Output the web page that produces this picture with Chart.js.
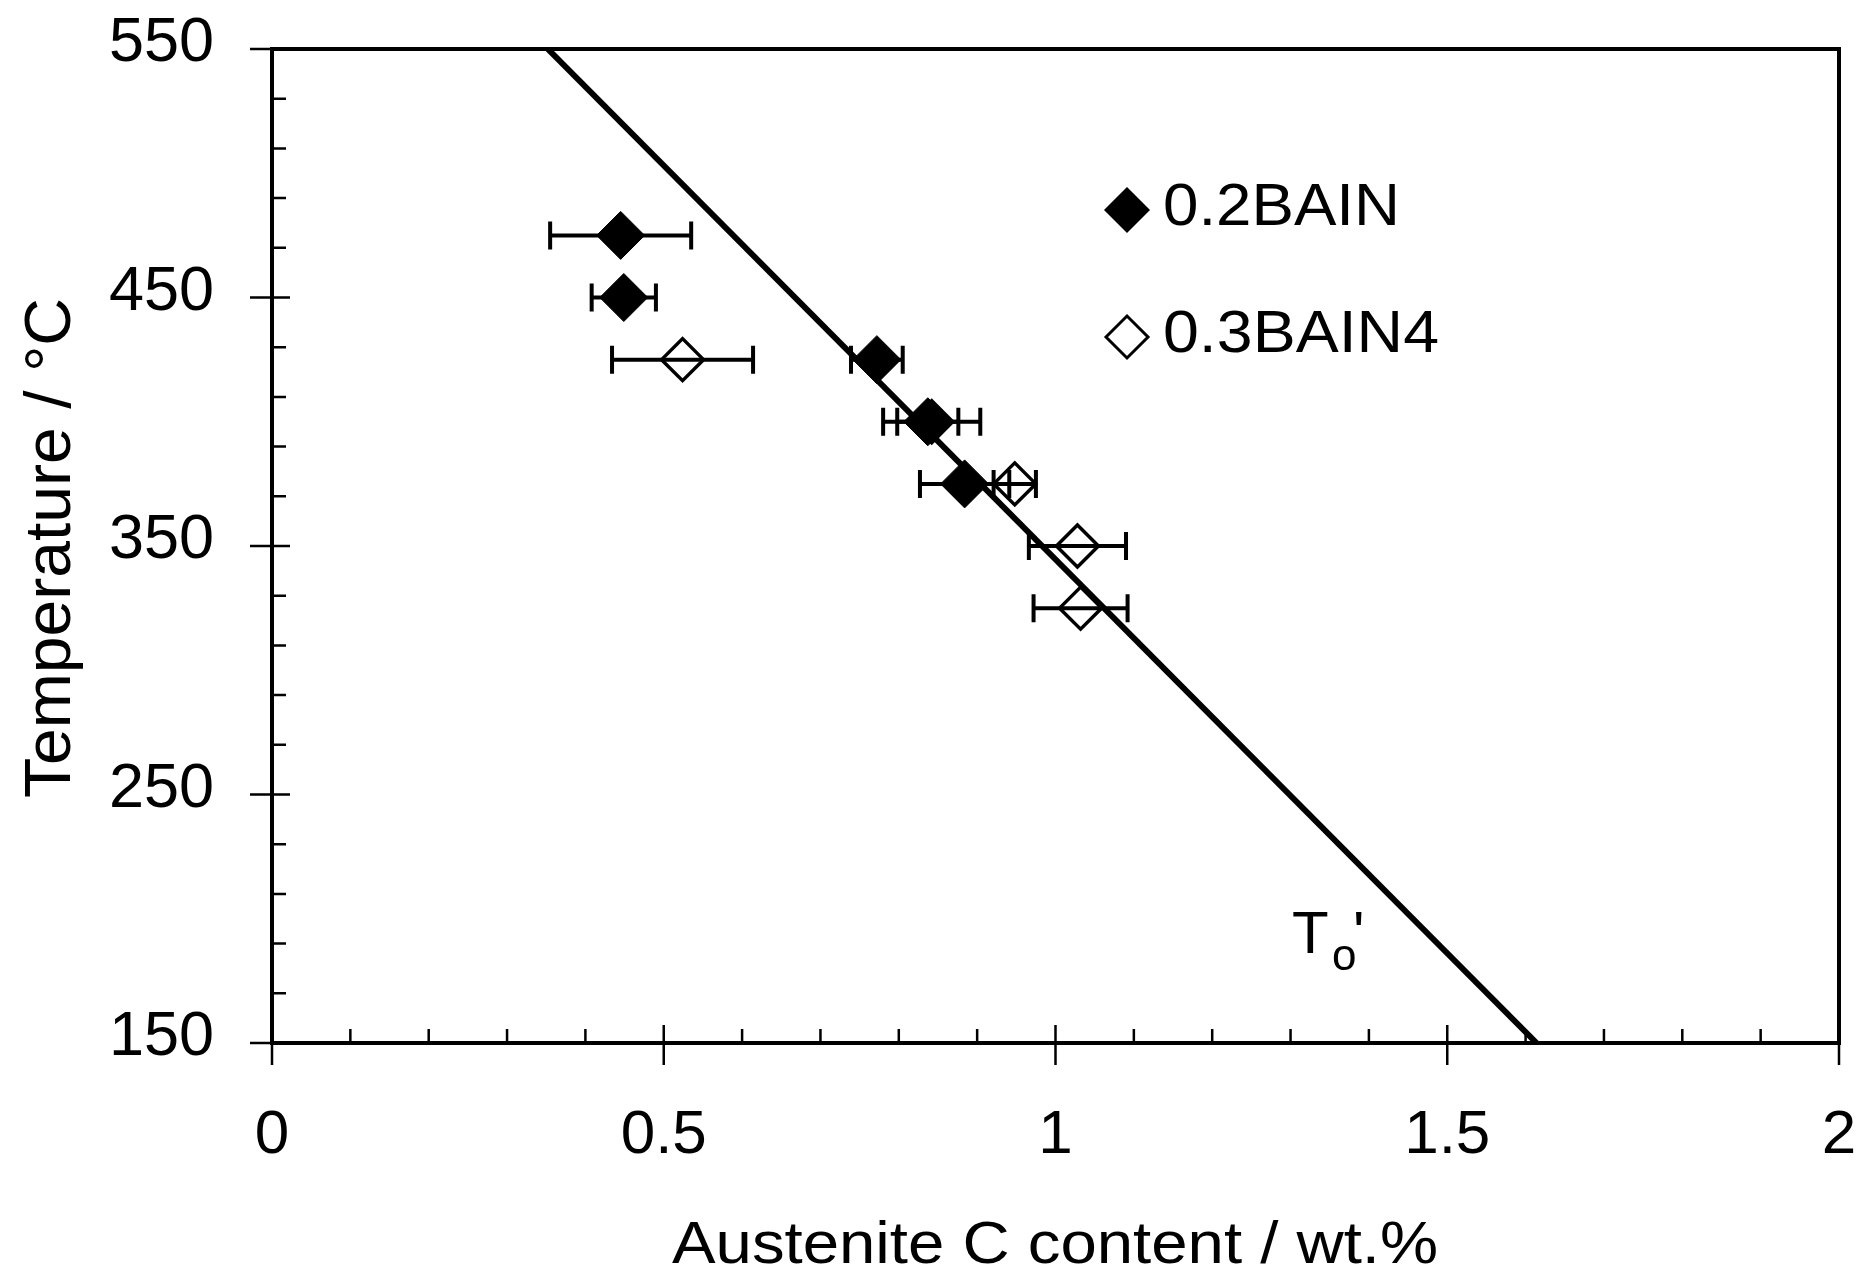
<!DOCTYPE html>
<html>
<head>
<meta charset="utf-8">
<script src="https://cdn.jsdelivr.net/npm/chart.js@4.4.1/dist/chart.umd.min.js"></script>
<style>
  html, body { margin: 0; padding: 0; background: #fff; }
  canvas { display: block; }
</style>
</head>
<body>
<canvas id="grafico" width="1864" height="1275"></canvas>
<script>
// datos (x = %C en austenita, y = temperatura)
const bain02X = [0.445, 0.449, 0.772, 0.837, 0.884];
const bain02Y = [475, 450, 425, 400, 375];
const bain02Err = [0.09, 0.041, 0.033, 0.039, 0.057];

const bain03X = [0.524, 0.842, 0.948, 1.028, 1.032];
const bain03Y = [425, 400, 375, 350, 325];
const bain03Err = [0.09, 0.062, 0.027, 0.062, 0.06];

// linea T0'
const lineaT0X = [0.352, 1.614];
const lineaT0Y = [550, 150];

const xTicksMayores = [0, 0.5, 1, 1.5, 2];
const yTicksMayores = [150, 250, 350, 450, 550];
const nombres = ["0.2BAIN", "0.3BAIN4"];

const fuente = "'Liberation Sans', Arial, sans-serif";

function puntos(xs, ys) {
  return xs.map((x, i) => ({ x: x, y: ys[i] }));
}

function esMayor(lista, v) {
  return lista.some((m) => Math.abs(m - v) < 1e-6);
}

// texto estirado horizontalmente hasta un ancho dado
function texto(ctx, t, x, y, size, ancho, align) {
  ctx.font = size + "px " + fuente;
  const w = ctx.measureText(t).width;
  const sx = ancho ? ancho / w : 1;
  ctx.save();
  ctx.translate(x, y);
  ctx.scale(sx, 1);
  ctx.textAlign = align || "left";
  ctx.textBaseline = "alphabetic";
  ctx.fillStyle = "#000";
  ctx.fillText(t, 0, 0);
  ctx.restore();
}

function rombo(ctx, x, y, r, relleno) {
  ctx.beginPath();
  ctx.moveTo(x - r, y);
  ctx.lineTo(x, y - r);
  ctx.lineTo(x + r, y);
  ctx.lineTo(x, y + r);
  ctx.closePath();
  if (relleno) {
    ctx.fillStyle = "#000";
    ctx.fill();
  } else {
    ctx.lineWidth = 3;
    ctx.strokeStyle = "#000";
    ctx.stroke();
  }
}

function barras(ctx, xs, ys, errs, sx, sy) {
  ctx.save();
  ctx.strokeStyle = "#000";
  ctx.lineWidth = 4;
  for (let i = 0; i < xs.length; i++) {
    const y = sy.getPixelForValue(ys[i]);
    const x1 = sx.getPixelForValue(xs[i] - errs[i]);
    const x2 = sx.getPixelForValue(xs[i] + errs[i]);
    ctx.beginPath();
    ctx.moveTo(x1, y);
    ctx.lineTo(x2, y);
    ctx.moveTo(x1, y - 14);
    ctx.lineTo(x1, y + 14);
    ctx.moveTo(x2, y - 14);
    ctx.lineTo(x2, y + 14);
    ctx.stroke();
  }
  ctx.restore();
}

const fondo = {
  id: "fondo",
  beforeDraw(chart) {
    const ctx = chart.ctx;
    ctx.save();
    ctx.fillStyle = "#fff";
    ctx.fillRect(0, 0, chart.width, chart.height);
    ctx.restore();
  }
};

const errores = {
  id: "errores",
  beforeDatasetsDraw(chart) {
    const sx = chart.scales.x;
    const sy = chart.scales.y;
    barras(chart.ctx, bain03X, bain03Y, bain03Err, sx, sy);
    barras(chart.ctx, bain02X, bain02Y, bain02Err, sx, sy);
  }
};

const marco = {
  id: "marco",
  afterDraw(chart) {
    const ctx = chart.ctx;
    const a = chart.chartArea;
    const sx = chart.scales.x;
    const sy = chart.scales.y;
    ctx.save();
    ctx.strokeStyle = "#000";
    ctx.lineWidth = 4;
    ctx.strokeRect(a.left, a.top, a.right - a.left, a.bottom - a.top);

    // marcas del eje x
    ctx.lineWidth = 2.5;
    ctx.beginPath();
    sx.ticks.forEach((t) => {
      const px = sx.getPixelForValue(t.value);
      if (esMayor(xTicksMayores, t.value)) {
        ctx.moveTo(px, a.bottom - 18);
        ctx.lineTo(px, a.bottom + 22);
      } else {
        ctx.moveTo(px, a.bottom - 14);
        ctx.lineTo(px, a.bottom);
      }
    });
    // marcas del eje y
    sy.ticks.forEach((t) => {
      const py = sy.getPixelForValue(t.value);
      if (esMayor(yTicksMayores, t.value)) {
        ctx.moveTo(a.left - 22, py);
        ctx.lineTo(a.left + 18, py);
      } else {
        ctx.moveTo(a.left, py);
        ctx.lineTo(a.left + 14, py);
      }
    });
    ctx.stroke();
    ctx.restore();

    // leyenda
    rombo(ctx, 1127, 210, 23, true);
    texto(ctx, nombres[0], 1163, 225, 60, 237);
    rombo(ctx, 1127, 337, 21, false);
    texto(ctx, nombres[1], 1163, 352, 60, 276);

    // etiqueta T0'
    texto(ctx, "T", 1292, 953, 60);
    texto(ctx, "o", 1332, 970, 44);
    texto(ctx, "'", 1353, 953, 60);

    // titulos de ejes
    texto(ctx, "Austenite C content / wt.%", 1055, 1263, 60, 766, "center");
    ctx.save();
    ctx.translate(70, 548);
    ctx.rotate(-Math.PI / 2);
    texto(ctx, "Temperature / \u00B0C", 0, 0, 64, 500, "center");
    ctx.restore();
  }
};

const ctxGrafico = document.getElementById("grafico");

new Chart(ctxGrafico, {
  type: "scatter",
  data: {
    datasets: [
      {
        label: "T0'",
        data: puntos(lineaT0X, lineaT0Y),
        showLine: true,
        borderColor: "#000",
        borderWidth: 6,
        pointRadius: 0,
        fill: false
      },
      {
        label: nombres[0],
        data: puntos(bain02X, bain02Y),
        pointStyle: "rectRot",
        pointRadius: 24,
        pointHoverRadius: 24,
        backgroundColor: "#000",
        borderColor: "#000",
        borderWidth: 1
      },
      {
        label: nombres[1],
        data: puntos(bain03X, bain03Y),
        pointStyle: "rectRot",
        pointRadius: 21,
        pointHoverRadius: 21,
        backgroundColor: "rgba(255,255,255,0)",
        borderColor: "#000",
        borderWidth: 3.5
      }
    ]
  },
  options: {
    responsive: false,
    animation: false,
    events: [],
    layout: { padding: { left: 0, top: 49, right: 20, bottom: 0 } },
    plugins: {
      legend: { display: false },
      tooltip: { enabled: false }
    },
    scales: {
      x: {
        type: "linear",
        min: 0,
        max: 2,
        grid: { display: false, drawTicks: false },
        border: { display: false },
        afterFit(scale) {
          scale.height = 232;
          scale.paddingLeft = 0;
          scale.paddingRight = 0;
        },
        ticks: {
          stepSize: 0.1,
          padding: 62,
          color: "#000",
          maxRotation: 0,
          autoSkip: false,
          font: { family: fuente, size: 62, lineHeight: 1 },
          callback: (v) => (esMayor(xTicksMayores, v) ? String(Math.round(v * 10) / 10) : "")
        }
      },
      y: {
        type: "linear",
        min: 150,
        max: 550,
        grid: { display: false, drawTicks: false },
        border: { display: false },
        afterFit(scale) {
          scale.width = 272;
          scale.paddingTop = 0;
          scale.paddingBottom = 0;
        },
        ticks: {
          stepSize: 20,
          padding: 58,
          labelOffset: -5,
          color: "#000",
          autoSkip: false,
          font: { family: fuente, size: 63, lineHeight: 1 },
          callback: (v) => (esMayor(yTicksMayores, v) ? String(v) : "")
        }
      }
    }
  },
  plugins: [fondo, errores, marco]
});
</script>
</body>
</html>
